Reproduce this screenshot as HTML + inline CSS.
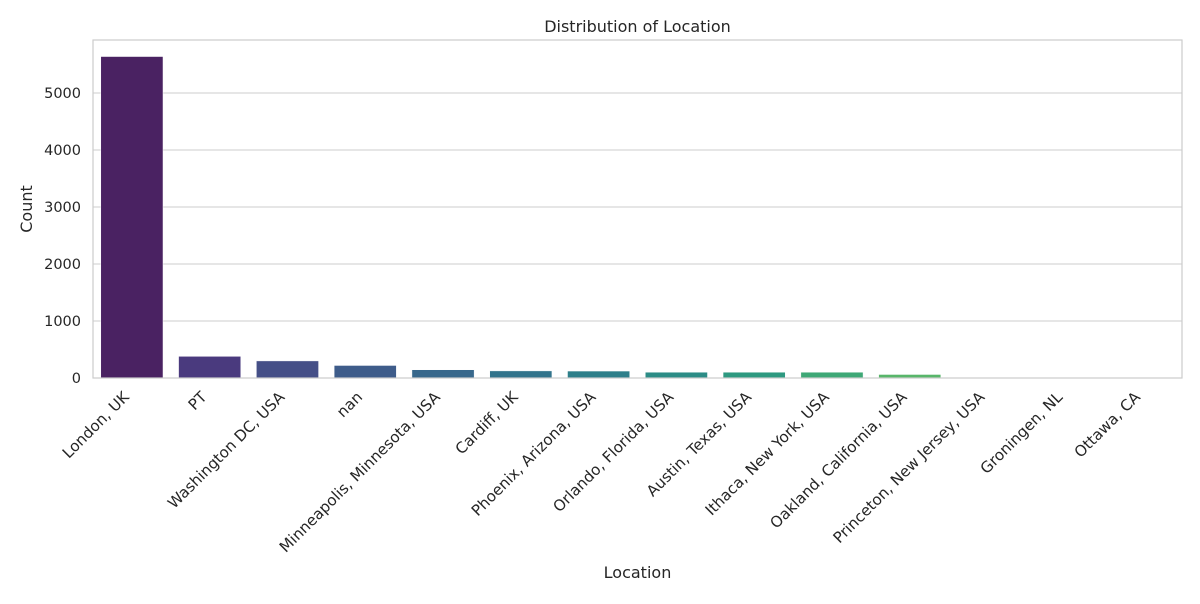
<!DOCTYPE html>
<html><head><meta charset="utf-8"><style>
body{margin:0;background:#fff;font-family:"DejaVu Sans","Liberation Sans",sans-serif}
</style></head><body>
<svg id="c" width="1200" height="600" font-family="DejaVu Sans, Liberation Sans, sans-serif"></svg>
<script>
const categories=["London, UK","PT","Washington DC, USA","nan","Minneapolis, Minnesota, USA","Cardiff, UK","Phoenix, Arizona, USA","Orlando, Florida, USA","Austin, Texas, USA","Ithaca, New York, USA","Oakland, California, USA","Princeton, New Jersey, USA","Groningen, NL","Ottawa, CA"];
const counts=[5640,380,300,220,145,125,122,102,102,102,62,4,2,1];
const yTicks=[0,1000,2000,3000,4000,5000];
const colors=["#4a2262","#4a3a7e","#454f87","#3e5c8a","#38688c","#32748c","#2e7f8a","#2c8c86","#2d9980","#3ea876","#58b66a","#7ac75a","#a4d446","#d0e03a"];
const NS="http://www.w3.org/2000/svg",svg=document.getElementById('c');
const L=93,R=1182,T=40,B=378;
const y=v=>B-(v/5000)*(B-93);
const slot=(R-L)/categories.length;
const x=i=>L+slot*(i+0.5);
function mk(t,a,p){const e=document.createElementNS(NS,t);for(const k in a)e.setAttribute(k,a[k]);(p||svg).appendChild(e);return e;}
yTicks.forEach(v=>{
 const g=mk('line',{x1:L,x2:R,y1:y(v),y2:y(v),stroke:'#cccccc','stroke-width':1});
 
 
 const t=mk('text',{x:L-12,y:y(v)+5,'text-anchor':'end','font-size':14.5,fill:'#262626'});t.textContent=v;
 
 
});
counts.forEach((v,i)=>{
 const w=slot*0.8;
 const r=mk('rect',{x:x(i)-w/2,y:y(v),width:w,height:B-y(v),fill:colors[i],stroke:'#ffffff','stroke-width':0.5});
 
 
 const t=mk('text',{x:0,y:0,'text-anchor':'end','font-size':15.2,fill:'#262626',transform:`translate(${x(i)-2},${B+20}) rotate(-45)`});
 t.textContent=categories[i];
 
 
});
const f=mk('rect',{x:L,y:T,width:R-L,height:B-T,fill:'none',stroke:'#cccccc','stroke-width':1.2});


const ti=mk('text',{x:(L+R)/2,y:32,'text-anchor':'middle','font-size':16,fill:'#262626'});ti.textContent='Distribution of Location';


const xt=mk('text',{x:(L+R)/2,y:578,'text-anchor':'middle','font-size':16,fill:'#262626'});xt.textContent='Location';


const yt=mk('text',{x:0,y:0,'text-anchor':'middle','font-size':16,fill:'#262626',transform:`translate(32,${(T+B)/2}) rotate(-90)`});yt.textContent='Count';


</script>
</body></html>
